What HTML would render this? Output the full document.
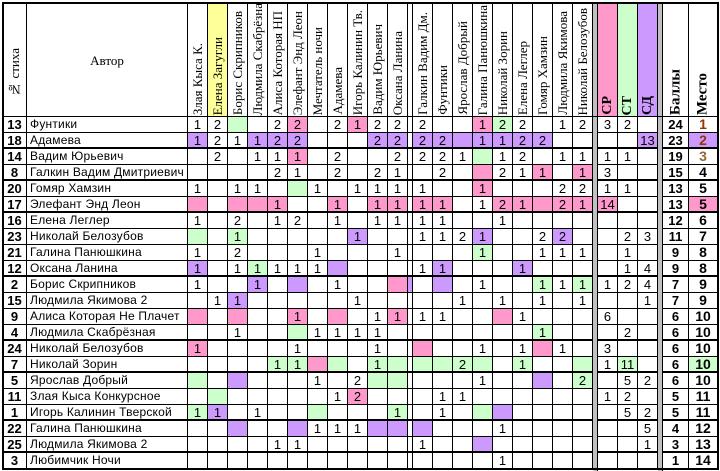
<!DOCTYPE html>
<html><head><meta charset="utf-8">
<style>
html,body{margin:0;padding:0;background:#fff;}
#sheet{position:relative;width:720px;height:471px;overflow:hidden;font-family:"Liberation Sans",sans-serif;font-size:12px;}
.c{position:absolute;box-sizing:border-box;border-right:1px solid #000;border-bottom:1px solid #000;text-align:center;line-height:15px;white-space:nowrap;overflow:hidden;font-size:13px;}
.h{position:absolute;box-sizing:border-box;border-right:1px solid #000;overflow:hidden;}
.vt{position:absolute;left:50%;bottom:2px;writing-mode:vertical-rl;transform:translateX(-50%) rotate(180deg);font-family:"Liberation Serif",serif;font-size:13px;white-space:nowrap;}
</style></head><body>
<div id="sheet"></div>
<script>
const judges=["Злая Кыса К.","Елена Загугли","Борис Скрипников","Людмила Скабрёзная","Алиса Которая НП","Элефант Энд Леон","Мечтатель ночи","Адамева","Игорь Калинин Тв.","Вадим Юрьевич","Оксана Ланина","","Галкин Вадим Дм.","Фунтики","Ярослав Добрый","Галина Панюшкина","Николай Зорин","Елена Леглер","Гомяр Хамзин","Людмила Якимова","Николай Белозубов"];
const rows=[
["13","Фунтики",["1","2","g","","2","2p","","2","1p","2","2","","2","","","1p","2g","2","","1","2"],["3","2",""],"24","1"],
["18","Адамева",["1v","2","1","1v","2v","2v","","","","2v","2v","","2v","2v","v","1v","1v","2v","2v","",""],["","","13v"],"23","2v"],
["14","Вадим Юрьевич",["","2","","1","1","1p","","2","","","2","","2","2","1","g","1","2","","1","1"],["1","1",""],"19","3"],
["8","Галкин Вадим Дмитриевич",["","","","","2","1","","2","","2","1","","","2","","p","2","1","1p","","1p"],["3","",""],"15","4"],
["20","Гомяр Хамзин",["1","","1","1","","g","1","","1","1","1","","1","","","1p","","","","2","2"],["1","1",""],"13","5"],
["17","Элефант Энд Леон",["p","","p","p","1p","","","1p","","1p","1p","","1p","1p","","1","2p","1p","p","2p","1p"],["14p","",""],"13","5p"],
["16","Елена Леглер",["1","","2","","1","2","","1","","1","1","","1","1","","","1","","","",""],["","",""],"12","6"],
["23","Николай Белозубов",["g","","1g","","","","","","1v","","","","1","1","2","1v","","","2","2v",""],["","2","3"],"11","7"],
["21","Галина Панюшкина",["1","","2","","","","1","","","","1","","","","","1g","","","1","1","1"],["","1",""],"9","8"],
["12","Оксана Ланина",["1v","","1","1g","1","1","1","v","","","","","1","1v","","","","1v","","",""],["","1","4"],"9","8"],
["2","Борис Скрипников",["1","","","1v","","v","","1","","","p","v","","v","","1","","","1g","1","1g"],["1","2","4"],"7","9"],
["15","Людмила Якимова 2",["","1","1v","","","","","","1","","","","","","1","","1","","1","","1"],["","","1"],"7","9"],
["9","Алиса Которая Не Плачет",["p","","p","","","1p","","p","","1","1p","","1","1","","","p","1","","",""],["6","",""],"6","10"],
["4","Людмила Скабрёзная",["","","1","","","g","1","1","1","1","","","","","","","","","1g","",""],["","2",""],"6","10"],
["24","Николай Белозубов",["1p","","","","","1","","","","1","","","p","","","1","","1","p","1",""],["3","",""],"6","10"],
["7","Николай Зорин",["","","","","1g","1g","p","g","","1g","g","","g","g","2g","g","","1g","","","g"],["1","11g",""],"6","10g"],
["5","Ярослав Добрый",["g","","v","","","","1","","2","g","g","","","","","1","","","v","","2g"],["","5","2"],"6","10"],
["11","Злая Кыса Конкурсное",["","g","","","","","","1","2p","","","","","1","1","","","","","",""],["1","2",""],"5","11"],
["1","Игорь Калинин Тверской",["1g","1v","","1","","","g","","","","1g","","","1","","g","v","","","",""],["","5","2"],"5","11"],
["22","Галина Панюшкина",["","","v","","","v","1","1","1","v","v","","v","","","","1","","","",""],["","","5"],"4","12"],
["25","Людмила Якимова 2",["","","","","1","1","","","","","","","1","","","v","","","","",""],["","","1"],"3","13"],
["3","Любимчик Ночи",["","","","","","","","","","","","","","","","","1","","","",""],["","",""],"1","14"]
];
const thick=[1,3,5,9,13,15,18,20];
const COL={p:"#ff99cc",g:"#ccffcc",v:"#cc99ff"};
const S=document.getElementById('sheet');
const TOP=3,HB=117,RH=16;
function mk(cls,x,y,w,h){const d=document.createElement('div');d.className=cls;d.style.left=x+'px';d.style.top=y+'px';d.style.width=w+'px';d.style.height=h+'px';S.appendChild(d);return d;}
function parse(s){const m=s.match(/^(\d*)([pgv]?)$/);return {t:m[1],c:m[2]};}
const jx=[];let x=188;
for(let i=0;i<21;i++){const w=(i===11)?5:20;jx.push([x,w]);x+=w;}
const sep1=[593,5],cr=[[598,20],[618,20],[638,20]],sep2=[658,5],sc=[663,26],pl=[689,29];
let h=mk('h',3,TOP,24,HB-TOP);


h.innerHTML='<div class="vt" style="bottom:20px;font-size:13px">№ стиха</div>';
h=mk('h',27,TOP,161,HB-TOP);


h.innerHTML='<div style="position:absolute;top:50px;width:100%;text-align:center;font-family:Liberation Serif,serif;font-size:13px">Автор</div>';
judges.forEach((j,i)=>{const e=mk('h',jx[i][0],TOP,jx[i][1],HB-TOP);


if(i===1)e.style.background='#ffff99';
if(j)e.innerHTML='<div class="vt">'+j+'</div>';});
[sep1,sep2].forEach(s=>{const e=mk('h',s[0],TOP,s[1],471-TOP);e.style.background='#c0c0c0';

});
[["СР","#ff99cc"],["СТ","#ccffcc"],["СД","#cc99ff"]].forEach((a,i)=>{const e=mk('h',cr[i][0],TOP,20,HB-TOP);e.style.background=a[1];


e.innerHTML='<div class="vt" style="font-weight:bold;font-size:14px">'+a[0]+'</div>';});
h=mk('h',sc[0],TOP,sc[1],HB-TOP);


h.innerHTML='<div class="vt" style="font-weight:bold;font-size:15px">Баллы</div>';
h=mk('h',pl[0],TOP,pl[1],HB-TOP);


h.innerHTML='<div class="vt" style="font-weight:bold;font-size:15px">Место</div>';
let hl=mk('h',3,HB-1,715,1);hl.style.background='#000';hl.style.border='none';


rows.forEach((r,ri)=>{
 const y=HB+ri*RH;const bb=thick.includes(ri)?'2px solid #000':'1px solid #000';
 function cell(x,w,txt,bg,name,extra){const e=mk('c',x,y,w,RH);e.style.borderBottom=bb;
  
  
  if(bg)e.style.background=bg;e.textContent=txt;if(extra)Object.assign(e.style,extra);return e;}
 cell(3,24,r[0],null,'poem-number',{fontWeight:'bold',fontSize:'13px'});
 cell(27,161,r[1],null,'author-name',{textAlign:'left',paddingLeft:'3px',fontSize:'12px',letterSpacing:'0.2px'});
 r[2].forEach((v,i)=>{const p=parse(v);cell(jx[i][0],jx[i][1],p.t,COL[p.c],'judge-score');});
 r[3].forEach((v,i)=>{const p=parse(v);cell(cr[i][0],20,p.t,COL[p.c],'category-score');});
 cell(sc[0],sc[1],r[4],null,'total-score',{fontWeight:'bold',fontSize:'13px'});
 const p=parse(r[5]);
 let col='#000';if(p.t==='1'||p.t==='2')col='#993300';if(p.t==='3')col='#996633';
 cell(pl[0],pl[1],p.t,COL[p.c],'place',{fontWeight:'bold',fontSize:'14px',color:col});
});
const f=mk('h',2,2,717,468);f.style.border='2px solid #000';f.style.pointerEvents='none';


</script>
</body></html>
